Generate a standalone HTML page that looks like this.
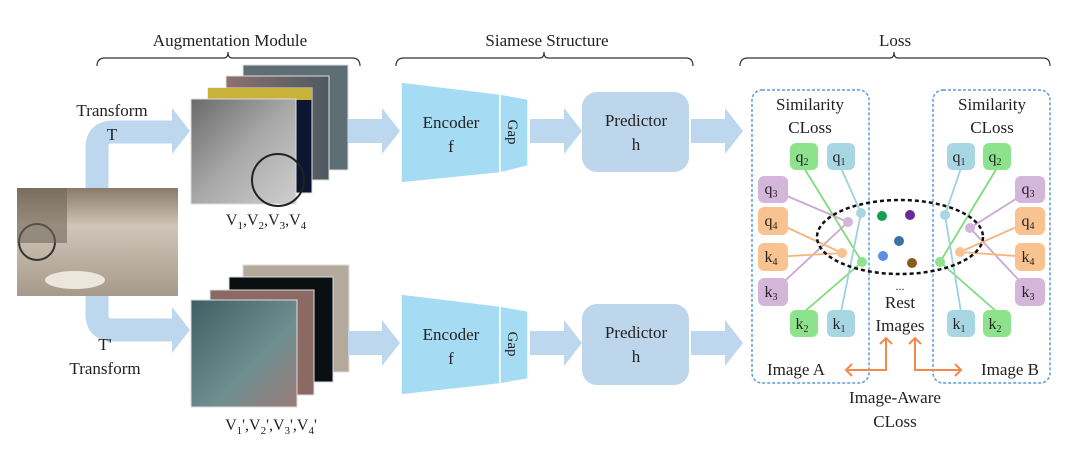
<!DOCTYPE html>
<html><head><meta charset="utf-8"><style>
html,body{margin:0;padding:0;background:#fff;}
svg{display:block;font-family:"Liberation Serif",serif;}
</style></head><body>
<svg width="1080" height="464" viewBox="0 0 1080 464" xmlns="http://www.w3.org/2000/svg">
<defs>
<linearGradient id="street" x1="0" y1="0" x2="0" y2="1">
<stop offset="0" stop-color="#8a7a68"/><stop offset="0.35" stop-color="#cfc5b8"/><stop offset="1" stop-color="#a69a8c"/></linearGradient>
<linearGradient id="gray" x1="0" y1="0" x2="1" y2="1"><stop offset="0" stop-color="#6a6a6a"/><stop offset="0.5" stop-color="#a8a8a8"/><stop offset="1" stop-color="#cfcfcf"/></linearGradient>
<linearGradient id="teal" x1="0" y1="0" x2="1" y2="1"><stop offset="0" stop-color="#3e5f63"/><stop offset="0.6" stop-color="#6f8f90"/><stop offset="1" stop-color="#9a7a78"/></linearGradient>
<linearGradient id="pink" x1="0" y1="0" x2="1" y2="0"><stop offset="0" stop-color="#8e7070"/><stop offset="1" stop-color="#4c5a60"/></linearGradient>
<g id="arr"><rect x="0" y="-12" width="36" height="24"/><polygon points="34,-23 52,0 34,23"/></g>
</defs>

<!-- braces -->
<g fill="none" stroke="#333" stroke-width="1.2">
<path d="M97,66 Q97,58 105,58 L224,58 Q228,58 228,52 Q228,58 232,58 L352,58 Q360,58 360,66"/>
<path d="M396,66 Q396,58 404,58 L540,58 Q544,58 544,52 Q544,58 548,58 L686,58 Q693,58 693,66"/>
<path d="M740,66 Q740,58 748,58 L890,58 Q894,58 894,52 Q894,58 898,58 L1043,58 Q1050,58 1050,66"/>
</g>
<g font-size="17" fill="#222" text-anchor="middle">
<text x="230" y="46">Augmentation Module</text>
<text x="547" y="46">Siamese Structure</text>
<text x="895" y="46">Loss</text>
</g>

<!-- curved arrows -->
<g fill="none" stroke="#bcd7ee" stroke-width="23">
<path d="M97,190 L97,148 Q97,132 113,132 L176,132"/>
<path d="M97,294 L97,314 Q97,330 113,330 L176,330"/>
</g>
<g fill="#bcd7ee">
<polygon points="172,108 190,131 172,154"/>
<polygon points="172,307 190,330 172,353"/>
</g>
<!-- main image -->
<rect x="17" y="188" width="161" height="108" fill="url(#street)"/>
<ellipse cx="75" cy="280" rx="30" ry="9" fill="#ece6dc"/>
<circle cx="37" cy="242" r="18" fill="none" stroke="#333" stroke-width="2"/>
<rect x="17" y="188" width="50" height="55" fill="#6f6558" opacity="0.6"/>

<g font-size="17" fill="#222" text-anchor="middle">
<text x="112" y="116">Transform</text>
<text x="112" y="140">T</text>
<text x="105" y="350">T'</text>
<text x="105" y="374">Transform</text>
</g>

<!-- top stack -->
<rect x="243" y="65" width="105" height="105" fill="#5d6e75" stroke="#ddd"/>
<rect x="226" y="76" width="103" height="104" fill="url(#pink)" stroke="#ddd"/>
<rect x="208" y="88" width="104" height="105" fill="#0c1630" stroke="#ddd"/>
<rect x="208" y="88" width="104" height="12" fill="#c8b23a"/>
<rect x="191" y="99" width="105" height="105" fill="url(#gray)" stroke="#ddd"/>
<circle cx="278" cy="180" r="26" fill="none" stroke="#222" stroke-width="2"/>
<text x="266" y="225" font-size="16" fill="#222" text-anchor="middle">V<tspan font-size="11" dy="4">1</tspan><tspan dy="-4">,V</tspan><tspan font-size="11" dy="4">2</tspan><tspan dy="-4">,V</tspan><tspan font-size="11" dy="4">3</tspan><tspan dy="-4">,V</tspan><tspan font-size="11" dy="4">4</tspan></text>

<!-- bottom stack -->
<rect x="243" y="265" width="106" height="107" fill="#b3aa9c" stroke="#ddd"/>
<rect x="229" y="277" width="104" height="105" fill="#0a1012" stroke="#ddd"/>
<rect x="210" y="290" width="104" height="105" fill="#8a6a62" stroke="#ddd"/>
<rect x="191" y="300" width="106" height="107" fill="url(#teal)" stroke="#ddd"/>
<text x="271" y="430" font-size="16" fill="#222" text-anchor="middle">V<tspan font-size="11" dy="4">1</tspan><tspan dy="-4">',V</tspan><tspan font-size="11" dy="4">2</tspan><tspan dy="-4">',V</tspan><tspan font-size="11" dy="4">3</tspan><tspan dy="-4">',V</tspan><tspan font-size="11" dy="4">4</tspan><tspan dy="-4">'</tspan></text>

<!-- straight arrows -->
<g fill="#bcd7ee">
<use href="#arr" x="348" y="131"/>
<use href="#arr" x="530" y="131"/>
<use href="#arr" x="691" y="131"/>
<use href="#arr" x="348" y="343"/>
<use href="#arr" x="530" y="343"/>
<use href="#arr" x="691" y="343"/>
</g>

<!-- encoders -->
<g fill="#a5dcf3" stroke="#fff" stroke-width="1.5">
<polygon points="401,82 500,94 500,173 401,183"/>
<polygon points="500,94 528,99 528,166 500,173"/>
<polygon points="401,294 500,306 500,384 401,395"/>
<polygon points="500,306 528,311 528,379 500,384"/>
</g>
<g font-size="17" fill="#222" text-anchor="middle">
<text x="451" y="128">Encoder</text><text x="451" y="152">f</text>
<text x="451" y="340">Encoder</text><text x="451" y="364">f</text>
<text transform="translate(508,132) rotate(90)" font-size="15">Gap</text>
<text transform="translate(508,344) rotate(90)" font-size="15">Gap</text>
</g>
<rect x="582" y="92" width="107" height="80" rx="15" fill="#bdd6ec"/>
<rect x="582" y="304" width="107" height="81" rx="15" fill="#bdd6ec"/>
<g font-size="17" fill="#222" text-anchor="middle">
<text x="636" y="126">Predictor</text><text x="636" y="150">h</text>
<text x="636" y="338">Predictor</text><text x="636" y="362">h</text>
</g>

<!-- loss boxes -->
<g fill="none" stroke="#5b9bd5" stroke-width="1.5" stroke-dasharray="3,2">
<rect x="752" y="90" width="117" height="293" rx="10"/>
<rect x="933" y="90" width="117" height="293" rx="10"/>
</g>
<g font-size="17" fill="#222" text-anchor="middle">
<text x="810" y="110">Similarity</text><text x="810" y="133">CLoss</text>
<text x="992" y="110">Similarity</text><text x="992" y="133">CLoss</text>
</g>

<!-- lines -->
<g stroke-width="1.8" fill="none">
<path d="M804,168 L862,262 L804,312" stroke="#7ddc7c"/>
<path d="M841,168 L861,213 L841,312" stroke="#9dd0e0"/>
<path d="M773,190 L848,222 L773,292" stroke="#c9a8d2"/>
<path d="M773,221 L842,253 L773,257" stroke="#f6b57d"/>
<path d="M997,168 L940,262 L997,312" stroke="#7ddc7c"/>
<path d="M961,168 L945,215 L961,312" stroke="#9dd0e0"/>
<path d="M1030,190 L970,228 L1030,292" stroke="#c9a8d2"/>
<path d="M1030,221 L960,252 L1030,257" stroke="#f6b57d"/>
</g>
<ellipse cx="900" cy="237" rx="83" ry="37" fill="none" stroke="#111" stroke-width="2.5" stroke-dasharray="4,3"/>
<g>
<circle cx="862" cy="262" r="5" fill="#8de28c"/><circle cx="861" cy="213" r="5" fill="#a9d6e3"/>
<circle cx="848" cy="222" r="5" fill="#d3b6da"/><circle cx="842" cy="253" r="5" fill="#f8c391"/>
<circle cx="940" cy="262" r="5" fill="#8de28c"/><circle cx="945" cy="215" r="5" fill="#a9d6e3"/>
<circle cx="970" cy="228" r="5" fill="#d3b6da"/><circle cx="960" cy="252" r="5" fill="#f8c391"/>
<circle cx="882" cy="216" r="5" fill="#14a050"/><circle cx="910" cy="215" r="5" fill="#6a2a9a"/>
<circle cx="899" cy="241" r="5" fill="#3a72a8"/><circle cx="883" cy="256" r="5" fill="#5b8fe0"/>
<circle cx="912" cy="263" r="5" fill="#8a5a1a"/>
</g>

<!-- nodes -->
<g>
<rect x="790" y="143" width="28" height="27" rx="6" fill="#8de28c"/>
<rect x="827" y="143" width="28" height="27" rx="6" fill="#a9d6e3"/>
<rect x="758" y="176" width="30" height="27" rx="6" fill="#d3b6da"/>
<rect x="758" y="207" width="30" height="28" rx="6" fill="#f8c391"/>
<rect x="758" y="243" width="30" height="28" rx="6" fill="#f8c391"/>
<rect x="758" y="278" width="30" height="28" rx="6" fill="#d3b6da"/>
<rect x="790" y="310" width="28" height="27" rx="6" fill="#8de28c"/>
<rect x="827" y="310" width="28" height="27" rx="6" fill="#a9d6e3"/>
<rect x="947" y="143" width="28" height="27" rx="6" fill="#a9d6e3"/>
<rect x="983" y="143" width="28" height="27" rx="6" fill="#8de28c"/>
<rect x="1015" y="176" width="30" height="27" rx="6" fill="#d3b6da"/>
<rect x="1015" y="207" width="30" height="28" rx="6" fill="#f8c391"/>
<rect x="1015" y="243" width="30" height="28" rx="6" fill="#f8c391"/>
<rect x="1015" y="278" width="30" height="28" rx="6" fill="#d3b6da"/>
<rect x="947" y="310" width="28" height="27" rx="6" fill="#a9d6e3"/>
<rect x="983" y="310" width="28" height="27" rx="6" fill="#8de28c"/>
</g>
<g font-size="16" fill="#222" text-anchor="middle">
<text x="802" y="162">q<tspan font-size="10" dy="3">2</tspan></text>
<text x="839" y="162">q<tspan font-size="10" dy="3">1</tspan></text>
<text x="771" y="194">q<tspan font-size="10" dy="3">3</tspan></text>
<text x="771" y="226">q<tspan font-size="10" dy="3">4</tspan></text>
<text x="771" y="262">k<tspan font-size="10" dy="3">4</tspan></text>
<text x="771" y="297">k<tspan font-size="10" dy="3">3</tspan></text>
<text x="802" y="329">k<tspan font-size="10" dy="3">2</tspan></text>
<text x="839" y="329">k<tspan font-size="10" dy="3">1</tspan></text>
<text x="959" y="162">q<tspan font-size="10" dy="3">1</tspan></text>
<text x="995" y="162">q<tspan font-size="10" dy="3">2</tspan></text>
<text x="1028" y="194">q<tspan font-size="10" dy="3">3</tspan></text>
<text x="1028" y="226">q<tspan font-size="10" dy="3">4</tspan></text>
<text x="1028" y="262">k<tspan font-size="10" dy="3">4</tspan></text>
<text x="1028" y="297">k<tspan font-size="10" dy="3">3</tspan></text>
<text x="959" y="329">k<tspan font-size="10" dy="3">1</tspan></text>
<text x="995" y="329">k<tspan font-size="10" dy="3">2</tspan></text>
</g>
<g font-size="17" fill="#222" text-anchor="middle">
<text x="900" y="290" font-size="12">...</text>
<text x="900" y="308">Rest</text>
<text x="900" y="331">Images</text>
<text x="796" y="375">Image A</text>
<text x="1010" y="375">Image B</text>
<text x="895" y="403">Image-Aware</text>
<text x="895" y="427">CLoss</text>
</g>
<g fill="none" stroke="#f0894a" stroke-width="2">
<path d="M846,370 L886,370 L886,338"/>
<path d="M852,364 L846,370 L852,376"/>
<path d="M880,344 L886,338 L892,344"/>
<path d="M915,338 L915,370 L961,370"/>
<path d="M909,344 L915,338 L921,344"/>
<path d="M955,364 L961,370 L955,376"/>
</g>
</svg>
</body></html>
